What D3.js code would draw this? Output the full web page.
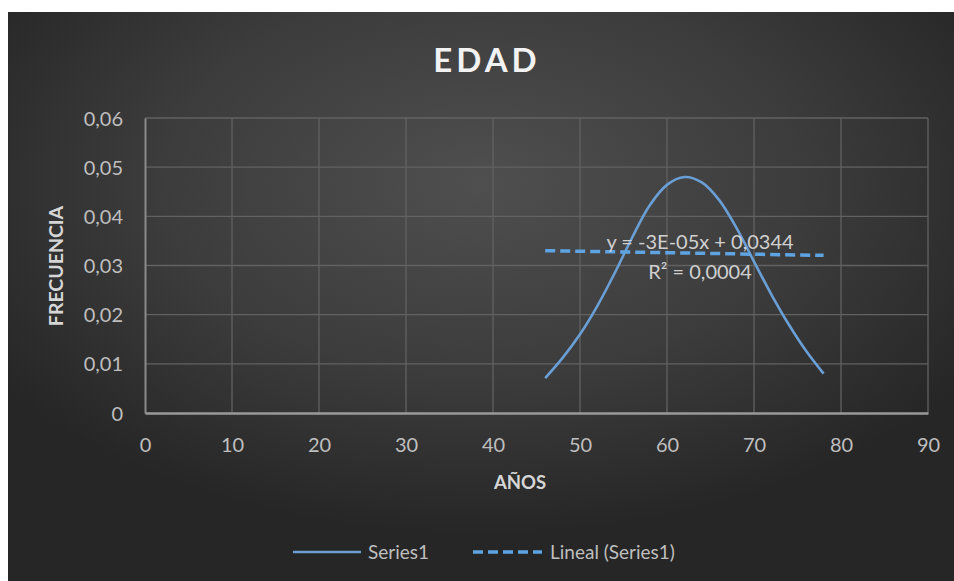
<!DOCTYPE html>
<html>
<head>
<meta charset="utf-8">
<script src="https://cdn.jsdelivr.net/npm/d3@7"></script>
<style>
  html, body { margin: 0; padding: 0; background: #ffffff; }
  .canvas { width: 954px; height: 581px; }
  text { font-family: Lato, "Open Sans", sans-serif; }
</style>
</head>
<body>
<div class="canvas"></div>
<script>
const ages = [46, 48, 50, 52, 54, 56, 58, 60, 62, 64, 66, 68, 70, 72, 74, 76, 78];
const frecuencia = [0.0071, 0.0112, 0.016, 0.0218, 0.0285, 0.0357, 0.0422, 0.0464, 0.048,
  0.0469, 0.0433, 0.0376, 0.0308, 0.0241, 0.018, 0.0126, 0.008];
const xTicks = [0, 10, 20, 30, 40, 50, 60, 70, 80, 90];
const yTicks = [0, 0.01, 0.02, 0.03, 0.04, 0.05, 0.06];
const trendSlope = -3e-5;
const trendIntercept = 0.0344;
const trendLabels = ["y = -3E-05x + 0,0344", "R² = 0,0004"];
const legendLabels = ["Series1", "Lineal (Series1)"];

function setup() {
  const svg = d3
    .select(".canvas")
    .append("svg")
    .attr("width", 954)
    .attr("height", 581);

  // dark radial background like the Excel style
  const grad = svg
    .append("defs")
    .append("radialGradient")
    .attr("id", "bg")
    .attr("cx", "50%")
    .attr("cy", "30%")
    .attr("r", "62%");
  grad.append("stop").attr("offset", "0%").attr("stop-color", "#4f4f4f");
  grad.append("stop").attr("offset", "55%").attr("stop-color", "#3c3c3c");
  grad.append("stop").attr("offset", "100%").attr("stop-color", "#262626");

  svg
    .append("rect")
    .attr("x", 8)
    .attr("y", 12)
    .attr("width", 946)
    .attr("height", 569)
    .attr("fill", "url(#bg)");

  const x = d3.scaleLinear().domain([0, 90]).range([145, 928]);
  const y = d3.scaleLinear().domain([0, 0.06]).range([413, 118]);

  // gridlines
  svg
    .append("g")
    .selectAll("line")
    .data(yTicks.slice(1))
    .enter()
    .append("line")
    .attr("x1", x(0))
    .attr("x2", x(90))
    .attr("y1", (d) => y(d))
    .attr("y2", (d) => y(d))
    .attr("stroke", "#626262")
    .attr("stroke-width", 1.3);
  svg
    .append("g")
    .selectAll("line")
    .data(xTicks.slice(1))
    .enter()
    .append("line")
    .attr("x1", (d) => x(d))
    .attr("x2", (d) => x(d))
    .attr("y1", y(0))
    .attr("y2", y(0.06))
    .attr("stroke", "#626262")
    .attr("stroke-width", 1.3);

  const yAxis = d3
    .axisLeft(y)
    .tickValues(yTicks)
    .tickSize(0)
    .tickPadding(22)
    .tickFormat((d) => (d === 0 ? "0" : d3.format(".2f")(d).replace(".", ",")));
  const xAxis = d3.axisBottom(x).tickValues(xTicks).tickSize(0).tickPadding(33);

  const gy = svg.append("g").attr("transform", `translate(${x(0)}, 0)`).call(yAxis);
  gy.select(".domain").attr("stroke", "#8a8a8a").attr("stroke-width", 2);
  gy.selectAll("text")
    .attr("fill", "#bfbfbf")
    .style("font-size", "20px")
    .attr("dy", "0.35em");

  const gx = svg.append("g").attr("transform", `translate(0, ${y(0)})`).call(xAxis);
  gx.select(".domain").attr("stroke", "#9a9a9a").attr("stroke-width", 2.5);
  gx.selectAll("text")
    .attr("fill", "#bfbfbf")
    .style("font-size", "20px")
    .attr("dy", "0.3em");

  // series curve
  const line = d3
    .line()
    .x((d, i) => x(ages[i]))
    .y((d) => y(d))
    .curve(d3.curveCatmullRom.alpha(0.5));

  svg
    .append("path")
    .datum(frecuencia)
    .attr("d", line)
    .attr("fill", "none")
    .attr("stroke", "#6a9fd6")
    .attr("stroke-width", 2.6);

  // linear trend
  const trendX = [d3.min(ages), d3.max(ages)];
  svg
    .append("line")
    .attr("x1", x(trendX[0]))
    .attr("x2", x(trendX[1]))
    .attr("y1", y(trendSlope * trendX[0] + trendIntercept))
    .attr("y2", y(trendSlope * trendX[1] + trendIntercept))
    .attr("stroke", "#5ea4e2")
    .attr("stroke-width", 3.5)
    .attr("stroke-dasharray", "10,5");

  svg
    .selectAll(".trendlabel")
    .data(trendLabels)
    .enter()
    .append("text")
    .attr("class", "trendlabel")
    .attr("x", 700)
    .attr("y", (d, i) => 249 + i * 30)
    .attr("text-anchor", "middle")
    .attr("fill", "#d0d0d0")
    .style("font-size", "20px")
    .text((d) => d);

  // titles
  svg
    .append("text")
    .attr("x", 487)
    .attr("y", 72)
    .attr("text-anchor", "middle")
    .attr("fill", "#f2f2f2")
    .style("font-size", "33px")
    .style("font-weight", "bold")
    .style("letter-spacing", "4px")
    .text("EDAD");

  svg
    .append("text")
    .attr("x", 520)
    .attr("y", 489)
    .attr("text-anchor", "middle")
    .attr("fill", "#d6d6d6")
    .style("font-size", "18.5px")
    .style("font-weight", "bold")
    .text("AÑOS");

  svg
    .append("text")
    .attr("transform", "translate(63, 266) rotate(-90)")
    .attr("text-anchor", "middle")
    .attr("fill", "#d6d6d6")
    .style("font-size", "19.5px")
    .style("font-weight", "bold")
    .text("FRECUENCIA");

  // legend
  const legend = svg.append("g").attr("transform", "translate(0, 552)");
  legend
    .append("line")
    .attr("x1", 293)
    .attr("x2", 361)
    .attr("stroke", "#6a9fd6")
    .attr("stroke-width", 2.6);
  legend
    .append("line")
    .attr("x1", 473)
    .attr("x2", 542)
    .attr("stroke", "#5ea4e2")
    .attr("stroke-width", 3.5)
    .attr("stroke-dasharray", "10,5");
  legend
    .selectAll("text")
    .data(legendLabels)
    .enter()
    .append("text")
    .attr("x", (d, i) => (i === 0 ? 368 : 550))
    .attr("dy", "0.35em")
    .attr("fill", "#bfbfbf")
    .style("font-size", "19px")
    .text((d) => d);
}

setup();
</script>
</body>
</html>
